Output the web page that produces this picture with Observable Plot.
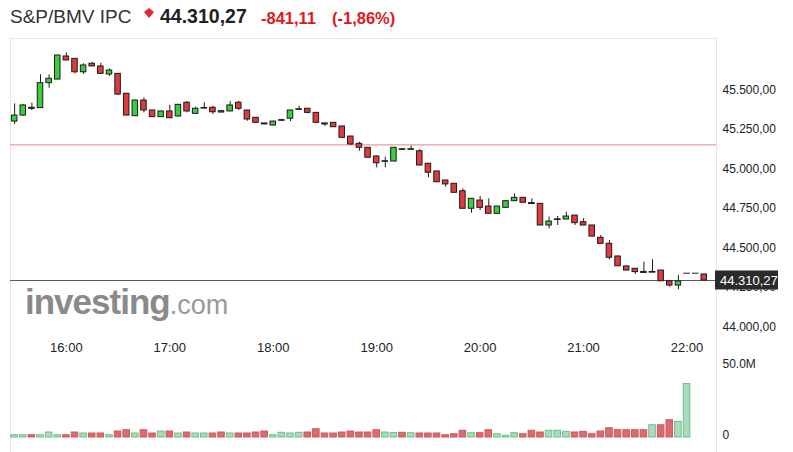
<!DOCTYPE html>
<html><head><meta charset="utf-8">
<script src="https://cdn.jsdelivr.net/npm/d3@7"></script>
<script src="https://cdn.jsdelivr.net/npm/@observablehq/plot@0.6"></script>
<style>
body{margin:0;background:#fff;font-family:"Liberation Sans",Arial,sans-serif;}
#root{position:relative;width:793px;height:452px;overflow:hidden;background:#fff;}
.abs{position:absolute;white-space:nowrap;line-height:1;}
#panel{position:absolute;left:10px;top:38px;width:707px;height:420px;box-sizing:border-box;border-left:1px solid #e6e6e6;border-top:1px solid #e6e6e6;border-right:1px solid #e1e4ea;}
#price{position:absolute;left:0;top:38px;}
#vol{position:absolute;left:0;top:360px;}
#wm{position:absolute;left:25px;top:283.7px;line-height:1;font-size:35px;font-weight:bold;color:#8a8a8a;letter-spacing:-1px;white-space:nowrap;}
#wm span{font-size:27px;font-weight:normal;color:#999;letter-spacing:0;}
</style></head><body>
<div id="root">
  <div id="panel"></div>
  <div id="wm">investing<span>.com</span></div>
  <div id="price"></div>
  <div id="vol"></div>
  <div id="hdr"></div>
</div>
<script>
// ---- header values ----
const instrument = "S&P/BMV IPC";
const lastPrice = 44310.27;
const change = -841.11;
const changePct = -1.86;
const prevClose = 45151.38;

// ---- time axis ----
const startTime = "15:30";
const stepMinutes = 5;
const xTickLabels = ["16:00", "17:00", "18:00", "19:00", "20:00", "21:00", "22:00"];

// ---- price axis ----
const priceTicks = [44000, 44250, 44500, 44750, 45000, 45250, 45500];
const volumeTicks = [0, 50];
const volumeTickLabels = ["0", "50.0M"];

// ---- 5-minute candles ----
const open = [45299,45337,45386,45384,45542,45565,45711,45696,45611,45665,45648,45597,45601,45475,45333,45432,45369,45327,45363,45331,
45418,45348,45381,45386,45365,45363,45418,45369,45323,45287,45274,45304,45317,45373,45380,45354,45287,45291,45268,45204,
45158,45133,45078,45044,45046,45124,45120,45111,45032,44983,44926,44905,44858,44747,44799,44761,44715,44753,44795,44816,
44783,44778,44641,44677,44679,44704,44662,44641,44563,44525,44445,44382,44367,44347,44344,44356,44288,44261,44339,44339,44331];
const high = [45411,45407,45415,45595,45595,45719,45734,45698,45665,45673,45668,45633,45603,45476,45434,45449,45370,45364,45401,45407,
45426,45390,45418,45396,45366,45426,45428,45370,45324,45289,45301,45314,45371,45396,45381,45356,45288,45292,45269,45206,
45168,45134,45079,45073,45134,45126,45144,45122,45033,44984,44927,44906,44873,44811,44825,44810,44762,44796,44842,44817,
44810,44780,44694,44698,44725,44705,44684,44642,44578,44546,44446,44383,44368,44409,44424,44357,44289,44325,44339,44339,44332];
const low = [45280,45331,45369,45382,45510,45563,45684,45601,45597,45646,45600,45584,45464,45336,45331,45354,45325,45325,45319,45329,
45354,45344,45379,45344,45355,45361,45369,45301,45290,45282,45272,45299,45299,45372,45348,45290,45268,45262,45195,45148,
45111,45068,45006,45006,45045,45118,45119,45019,44943,44914,44884,44847,44745,44719,44736,44714,44714,44752,44794,44783,
44779,44640,44620,44641,44678,44641,44640,44570,44524,44424,44382,44355,44331,44343,44343,44287,44251,44234,44339,44339,44292];
const close = [45337,45401,45383,45542,45570,45717,45686,45611,45654,45648,45601,45622,45470,45337,45432,45369,45327,45363,45320,45405,
45363,45380,45385,45358,45356,45401,45380,45312,45291,45284,45299,45308,45369,45377,45354,45291,45284,45263,45196,45154,
45133,45070,45035,45048,45133,45120,45124,45021,44975,44915,44901,44848,44747,44810,44753,44715,44761,44795,44816,44785,
44780,44641,44666,44680,44698,44656,44641,44571,44525,44437,44383,44356,44346,44344,44347,44288,44261,44287,44339,44339,44293];
// volume in millions
const volume = [1.6,1.6,1.6,1.6,3.5,1.6,1.6,3.5,2.8,2.8,2.8,1.6,4.2,5.1,2.8,5.1,2.8,4.2,4.2,2.8,
3.5,2.8,2.8,2.8,3.5,2.8,2.8,2.8,3.5,4.2,1.6,3.3,2.8,3.3,3.5,5.8,2.8,2.8,3.5,4.2,
3.5,3.5,5.1,3.5,3.1,3.3,3.0,2.8,2.8,2.8,1.6,2.3,4.7,3.0,3.0,5.1,2.3,1.2,3.0,2.3,
4.7,3.5,4.7,4.7,4.0,3.5,4.0,2.3,4.2,6.5,5.1,5.1,5.1,5.1,8.6,8.6,12.1,11.0,37.5,0,0];

// ---- styles ----
const upFill = "#3bcd3b", downFill = "#e23a3c", candleStroke = "#1c1c1c";
const volUpFill = "#a9dcbf", volUpStroke = "#6fbd8e", volDownFill = "#db6b6c", volDownStroke = "#cc5a5c";
const fontFamily = "'Liberation Sans', Arial, sans-serif";

const toMin = s => +s.slice(0, 2) * 60 + +s.slice(3);
const t0 = toMin(startTime);
const candles = open.map((o, i) => ({
  t: t0 + i * stepMinutes, open: o, high: high[i], low: low[i], close: close[i], volume: volume[i],
  up: close[i] >= o
}));
const lastClose = close[close.length - 1];
const xTickTimes = xTickLabels.map(toMin);
const xDomain = [927.6, 1337.1];
const halfBody = 1.6, halfVol = 1.9;

const loc = d3.formatLocale({decimal: ",", thousands: ".", grouping: [3], currency: ["", ""], minus: "-"});
const fmt2 = loc.format(",.2f");

// ---- header ----
const hdr = d3.select("#hdr");
hdr.append("div").attr("class", "abs").style("left", "10px").style("top", "7px")
  .style("font-size", "19px").style("color", "#333").text(instrument);
hdr.append("svg").style("position", "absolute").style("left", "144px").style("top", "8px")
  .attr("width", 10).attr("height", 10)
  .append("polygon").attr("points", "0,4 5,0 10,4 5,10").attr("fill", "#e8262b");
hdr.append("div").attr("class", "abs").style("left", "160px").style("top", "6.5px")
  .style("font-size", "19.5px").style("font-weight", "bold").style("color", "#222").text(fmt2(lastPrice));
hdr.append("div").attr("class", "abs").style("left", "261px").style("top", "9.5px")
  .style("font-size", "16.5px").style("font-weight", "bold").style("color", "#e0181b").text(fmt2(change));
hdr.append("div").attr("class", "abs").style("left", "332px").style("top", "9.5px")
  .style("font-size", "16.5px").style("font-weight", "bold").style("color", "#e0181b").text("(" + fmt2(changePct) + "%)");

// ---- price chart ----
const price = Plot.plot({
  width: 793, height: 322,
  marginLeft: 10, marginRight: 77, marginTop: 0, marginBottom: 20,
  style: {fontFamily, fontSize: "12px", color: "#222", background: "transparent", overflow: "visible"},
  x: {domain: xDomain},
  y: {domain: [43913.1, 45824.8]},
  color: {type: "identity"},
  marks: [
    Plot.axisX({ticks: xTickTimes, tickFormat: d => xTickLabels[xTickTimes.indexOf(d)], tickSize: 0, tickPadding: 2, fontSize: 13, label: null}),
    Plot.axisY({anchor: "right", ticks: priceTicks, tickFormat: fmt2, tickSize: 0, tickPadding: 6, fontSize: 12, label: null}),
    Plot.ruleY([prevClose], {stroke: "#e98586", strokeWidth: 1}),
    Plot.ruleY([lastClose], {stroke: "#5a5a5a", strokeWidth: 1}),
    Plot.ruleX(candles, {x: "t", y1: "low", y2: "high", stroke: candleStroke}),
    Plot.rect(candles, {x1: d => d.t - halfBody, x2: d => d.t + halfBody, y1: "open", y2: "close",
      fill: d => d.up ? upFill : downFill, stroke: candleStroke, strokeWidth: 1}),
    Plot.ruleY(candles.filter(d => Math.abs(d.open - d.close) < 4), {y: "close", x1: d => d.t - halfBody - 0.3, x2: d => d.t + halfBody + 0.3, stroke: candleStroke})
  ]
});
document.getElementById("price").appendChild(price);

// last price label box, positioned through the plot's y scale
{
  const ys = price.scale("y");
  const yy = ys.apply(lastClose);
  const g = d3.select(price).append("g").attr("text-anchor", "start");
  g.append("rect").attr("x", 715).attr("y", yy - 9.5).attr("width", 63).attr("height", 19).attr("fill", "#2b2b2b");
  g.append("text").attr("x", 720).attr("y", yy + 0.5).attr("dy", "0.35em").attr("text-anchor", "start")
    .attr("fill", "#fff").attr("font-size", 13).attr("font-family", fontFamily).text(fmt2(lastPrice));
}

// ---- volume chart ----
const vol = Plot.plot({
  width: 793, height: 92,
  marginLeft: 10, marginRight: 77, marginTop: 0, marginBottom: 15,
  style: {fontFamily, fontSize: "12px", color: "#222", background: "transparent", overflow: "visible"},
  x: {domain: xDomain, axis: null},
  y: {domain: [0, 54]},
  color: {type: "identity"},
  marks: [
    Plot.axisY({anchor: "right", ticks: volumeTicks, tickFormat: d => volumeTickLabels[volumeTicks.indexOf(d)], tickSize: 0, tickPadding: 6, dy: -2, fontSize: 12, label: null}),
    Plot.rect(candles.filter(d => d.volume > 0), {x1: d => d.t - halfVol, x2: d => d.t + halfVol, y1: () => 0, y2: "volume",
      fill: d => d.up ? volUpFill : volDownFill, stroke: d => d.up ? volUpStroke : volDownStroke, strokeWidth: 1})
  ]
});
document.getElementById("vol").appendChild(vol);
</script>
</body></html>
